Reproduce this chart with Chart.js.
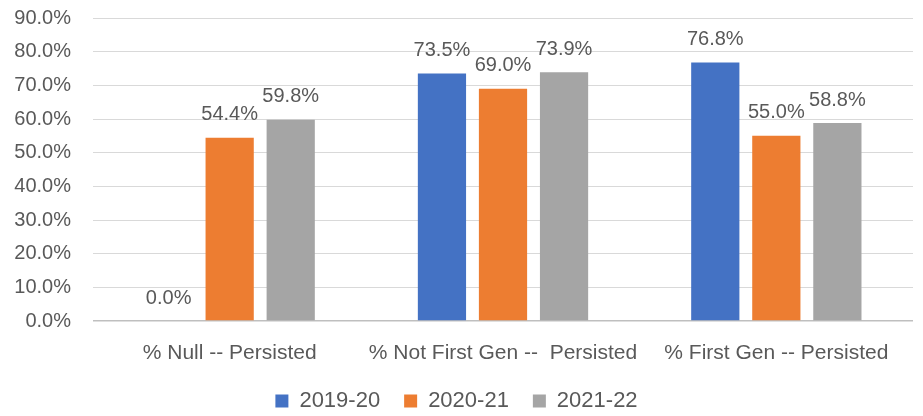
<!DOCTYPE html>
<html>
<head>
<meta charset="utf-8">
<script src="https://cdn.jsdelivr.net/npm/chart.js@4"></script>
<style>
  body { margin: 0; background: #fff; }
  #wrap { width: 923px; height: 416px; }
</style>
</head>
<body>
<div id="wrap"><canvas id="myChart" width="923" height="416"></canvas></div>
<script>
const categories = ['% Null -- Persisted', '% Not First Gen --  Persisted', '% First Gen -- Persisted'];
const years = ['2019-20', '2020-21', '2021-22'];
const values2019 = [0.0, 73.5, 76.8];
const values2020 = [54.4, 69.0, 55.0];
const values2021 = [59.8, 73.9, 58.8];
const colors = ['#4472C4', '#ED7D31', '#A5A5A5'];

const textColor = '#595959';
const fontFamily = '"Liberation Sans", Arial, sans-serif';

// labels above each bar
const valueLabels = {
    id: 'valueLabels',
    afterDatasetsDraw(chart) {
        const c = chart.ctx;
        c.save();
        c.fillStyle = textColor;
        c.font = '20px ' + fontFamily;
        c.textAlign = 'center';
        c.textBaseline = 'middle';
        chart.data.datasets.forEach((ds, i) => {
            chart.getDatasetMeta(i).data.forEach((bar, j) => {
                c.fillText(ds.data[j].toFixed(1) + '%', bar.x, bar.y - 23);
            });
        });
        c.restore();
    }
};

const ctx = document.getElementById('myChart');

new Chart(ctx, {
    type: 'bar',
    data: {
        labels: categories,
        datasets: [
            { label: years[0], data: values2019, backgroundColor: colors[0] },
            { label: years[1], data: values2020, backgroundColor: colors[1] },
            { label: years[2], data: values2021, backgroundColor: colors[2] }
        ]
    },
    options: {
        responsive: false,
        animation: false,
        categoryPercentage: 0.67,
        barPercentage: 0.79,
        layout: { padding: { top: 18, right: 10, left: 0, bottom: -6 } },
        plugins: {
            tooltip: { enabled: false },
            legend: {
                position: 'bottom',
                labels: {
                    boxWidth: 13,
                    boxHeight: 13,
                    padding: 24,
                    color: textColor,
                    font: { family: fontFamily, size: 22 }
                }
            }
        },
        scales: {
            x: {
                afterFit(scale) { scale.height = 45; },
                grid: { display: false },
                border: { display: false },
                ticks: {
                    color: textColor,
                    padding: 12,
                    maxRotation: 0,
                    minRotation: 0,
                    autoSkip: false,
                    font: { family: fontFamily, size: 21 }
                }
            },
            y: {
                min: 0,
                max: 90,
                afterFit(scale) {
                    scale.width = 93;
                    scale.paddingTop = 0;
                    scale.paddingBottom = 0;
                },
                grid: {
                    drawTicks: false,
                    color: (c) => c.index === 0 ? '#BFBFBF' : '#D9D9D9',
                    lineWidth: (c) => c.index === 0 ? 1.5 : 1
                },
                border: { display: false },
                ticks: {
                    stepSize: 10,
                    padding: 22,
                    color: textColor,
                    font: { family: fontFamily, size: 20 },
                    callback: (v) => v.toFixed(1) + '%'
                }
            }
        }
    },
    plugins: [valueLabels]
});
</script>
</body>
</html>
